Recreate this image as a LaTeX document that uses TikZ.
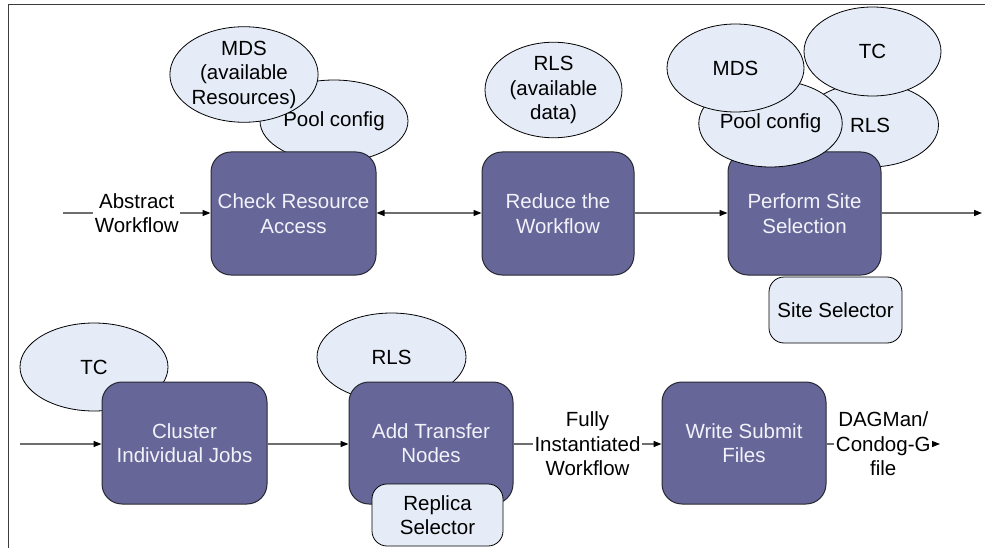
\documentclass[tikz,border=0pt]{standalone}
\usepackage{fontspec}
\setmainfont{Liberation Sans}
\usetikzlibrary{shapes.geometric,arrows.meta}
\definecolor{boxfill}{RGB}{102,102,153}
\definecolor{boxline}{RGB}{40,40,50}
\definecolor{ellfill}{RGB}{229,236,247}
\definecolor{linegray}{RGB}{110,110,110}
\definecolor{boxtext}{RGB}{242,242,250}
\definecolor{framecol}{RGB}{60,60,60}
\begin{document}
\begin{tikzpicture}[x=1pt,y=-1pt,
  txt/.style={font=\fontsize{20.5}{24.5}\selectfont},
  proc/.style={txt, draw=boxline, line width=1pt, fill=boxfill, rounded corners=20pt,
    text=boxtext, align=center, inner sep=0pt},
  src/.style={txt, ellipse, draw=black, line width=0.8pt, fill=ellfill, align=center, inner sep=0pt},
  sel/.style={txt, draw=black, line width=0.8pt, fill=ellfill, rounded corners=15pt, align=center, inner sep=0pt},
  flow/.style={draw=linegray, line width=1.4pt, -{Triangle[color=black,length=8pt,width=6pt]}},
  both/.style={draw=linegray, line width=1.4pt, {Triangle[color=black,length=8pt,width=6pt]}-{Triangle[color=black,length=8pt,width=6pt]}},
  lbl/.style={txt, fill=white, inner sep=1.5pt, align=center, text=black}]
\useasboundingbox (0,0) rectangle (985,548);
% frame
\draw[framecol, line width=1pt] (8,548) -- (8,5) -- (985,5);

% ---- top row ----
\node[src, minimum width=148pt, minimum height=82pt] (pool1) at (334,121) {Pool config};
\node[src, minimum width=148pt, minimum height=85pt] (mds1) at (244,74.5) {MDS\\(available\\Resources)};
\node[proc, minimum width=165pt, minimum height=123pt] (cra) at (293.5,213.5) {Check Resource\\Access};

\node[src, minimum width=137pt, minimum height=88pt] (rls1) at (553.5,90) {RLS\\(available\\data)};
\node[proc, minimum width=152pt, minimum height=123pt] (rtw) at (558,213.5) {Reduce the\\Workflow};

\node[src, minimum width=137pt, minimum height=84pt] (rls2) at (870,125) {\hspace*{0pt}RLS};
\node[src, minimum width=137pt, minimum height=89pt] (tc2) at (872.5,51.5) {TC};
\node[proc, minimum width=153pt, minimum height=123pt] (pss) at (804.5,213.5) {Perform Site\\Selection};
\node[src, minimum width=137pt, minimum height=87pt] (pool2) at (770.5,123.5) {Pool config};
\node[src, minimum width=137pt, minimum height=88pt] (mds2) at (735.5,68) {MDS};
\node[sel, minimum width=133pt, minimum height=66pt] (ss) at (835.5,310) {Site Selector};

% ---- bottom row ----
\node[src, minimum width=148pt, minimum height=88pt] (tc3) at (94,367) {TC};
\node[proc, minimum width=165pt, minimum height=122pt] (cij) at (184.5,443) {Cluster\\Individual Jobs};

\node[src, minimum width=149pt, minimum height=88pt] (rls3) at (391.5,357) {RLS};
\node[proc, minimum width=164pt, minimum height=122pt] (atn) at (431,443) {Add Transfer\\Nodes};
\node[sel, minimum width=131pt, minimum height=62pt] (rs) at (437.5,515) {Replica\\Selector};

\node[proc, minimum width=164pt, minimum height=122pt] (wsf) at (744,443) {Write Submit\\Files};

% ---- connectors ----
\coordinate (in1) at (63,213);
\coordinate (out1) at (982,213);
\coordinate (in2) at (20,444);
\coordinate (out2) at (940,444);

\draw[flow] (in1) -- node[lbl] {Abstract\\Workflow} (cra.west |- in1);
\draw[both] (cra.east |- in1) -- (rtw.west |- in1);
\draw[flow] (rtw.east |- in1) -- (pss.west |- in1);
\draw[flow] (pss.east |- in1) -- (out1);

\draw[flow] (in2) -- (cij.west |- in2);
\draw[flow] (cij.east |- in2) -- (atn.west |- in2);
\draw[flow] (atn.east |- in2) -- node[lbl] {Fully\\Instantiated\\Workflow} (wsf.west |- in2);
\draw[flow] (wsf.east |- in2) -- node[lbl] {DAGMan/\\Condog-G\\file} (out2);
\end{tikzpicture}
\end{document}
